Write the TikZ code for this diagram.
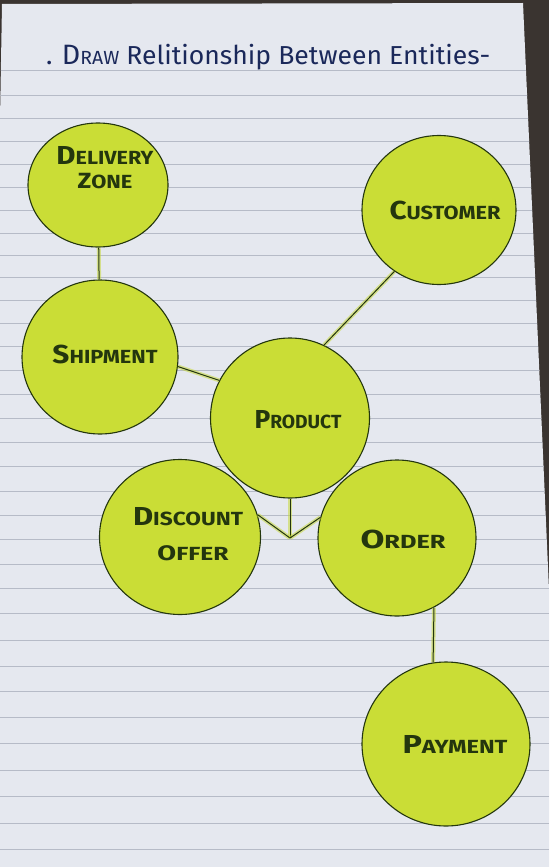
\documentclass[tikz,border=0pt]{standalone}
\usepackage{fontspec}
\usepackage{graphicx}
\setmainfont{Fira Sans}
\usetikzlibrary{shapes.geometric}
\definecolor{paper}{RGB}{229,232,239}
\definecolor{rulec}{RGB}{182,187,199}
\definecolor{lime}{RGB}{202,221,54}
\definecolor{inkg}{RGB}{36,54,14}
\definecolor{inkb}{RGB}{26,40,90}
\definecolor{edgec}{RGB}{58,52,48}
\definecolor{glow}{RGB}{196,216,40}
\newcommand{\hsc}[2]{{\fontsize{26}{26}\selectfont #1}{\fontsize{19}{19}\selectfont #2}}
\newcommand{\wlab}[2]{\resizebox{#1pt}{\height}{#2}}
\tikzset{
  ent/.style={ellipse, draw=inkg, line width=1.1pt, fill=lime, inner sep=0pt},
  lbl/.style={text=inkg, font=\bfseries, inner sep=0pt},
  link/.style={draw=inkg, line width=1pt, preaction={draw=glow, line width=4pt, draw opacity=0.5}},
}
\begin{document}
\begin{tikzpicture}[x=1pt,y=-1pt]
\useasboundingbox (0,0) rectangle (549,867);
% background and paper
\fill[edgec] (0,0) rectangle (549,867);
\fill[paper] (2,4) -- (523,3) -- (549,590) -- (549,867) -- (0,867) -- (0,120) -- cycle;
\begin{scope}
  \clip (2,4) -- (523,3) -- (549,590) -- (549,867) -- (0,867) -- (0,120) -- cycle;
  \foreach \yy in {70,95,118,141,164,187,210,233,255,277,300,323,346,370,394,418,442,466,491,515,539,564,588,613,640,666,691,717,743,770,796,823,849}
    \draw[rulec, line width=0.8pt] (0,\yy) -- (549,\yy);
\end{scope}
% title
\node[text=inkb, anchor=base west, inner sep=0pt] (title) at (46,64)
  {\wlab{444}{\fontsize{26}{26}\selectfont . {\fontsize{28}{28}\selectfont D}{\fontsize{19}{19}\selectfont RAW} Relitionship Between Entities-}};
% junction
\coordinate (j) at (290,538);
% entities
\node[ent, minimum width=140pt, minimum height=124pt] (dz) at (98,185) {};
\node[ent, minimum width=154pt, minimum height=149pt] (cust) at (439,210) {};
\node[ent, minimum width=156pt, minimum height=154pt] (ship) at (100,357) {};
\node[ent, minimum width=159pt, minimum height=160pt] (prod) at (290,418) {};
\node[ent, minimum width=161pt, minimum height=155pt] (disc) at (180,537) {};
\node[ent, minimum width=158pt, minimum height=156pt] (order) at (397,538) {};
\node[ent, minimum width=168pt, minimum height=164pt] (pay) at (446,744) {};
% labels
\node[lbl] (dzt1) at (105,155) {\wlab{97}{\hsc{D}{ELIVERY}}};
\node[lbl] (dzt2) at (105,181) {\wlab{55}{{\fontsize{22}{22}\selectfont Z}{\fontsize{19}{19}\selectfont ONE}}};
\node[lbl] (custt) at (445,210) {\wlab{111}{\hsc{C}{USTOMER}}};
\node[lbl] (shipt) at (105,354) {\wlab{105}{\hsc{S}{HIPMENT}}};
\node[lbl] (prodt) at (298,420) {\wlab{87}{\hsc{P}{RODUCT}}};
\node[lbl] (disct1) at (188,517) {\wlab{110}{\hsc{D}{ISCOUNT}}};
\node[lbl] (disct2) at (193,553) {\wlab{71}{{\fontsize{21}{21}\selectfont O}{\fontsize{19}{19}\selectfont FFER}}};
\node[lbl] (ordert) at (403,539) {\wlab{85}{\hsc{O}{RDER}}};
\node[lbl] (payt) at (455,744) {\wlab{105}{\hsc{P}{AYMENT}}};
% links
\draw[link] (dz) -- (ship);
\draw[link] (cust.234) -- (prod.65);
\draw[link] (ship.353) -- (prod.152);
\draw[link] (prod.south) -- (j);
\draw[link] (j) -- (disc.16);
\draw[link] (j) -- (order.165);
\draw[link] (order.-62) -- (pay.99);
\end{tikzpicture}
\end{document}
